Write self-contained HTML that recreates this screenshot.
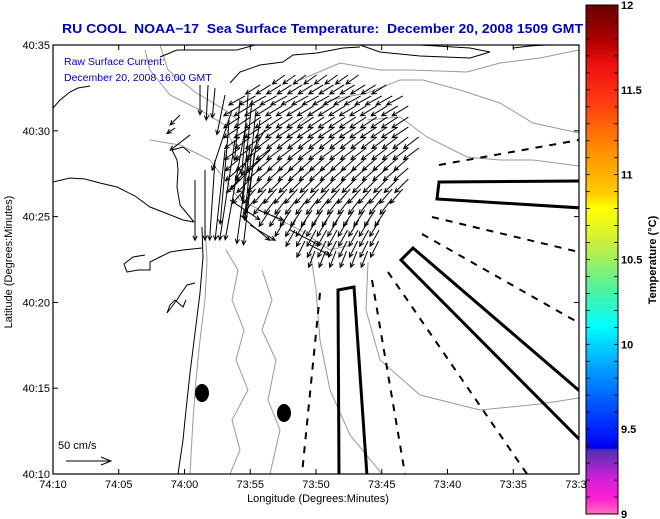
<!DOCTYPE html>
<html><head><meta charset="utf-8"><style>
html,body{margin:0;padding:0;background:#fff;}
svg{display:block;font-family:"Liberation Sans",Arial,sans-serif;}
</style></head><body>
<svg id="chart" width="660" height="519" viewBox="0 0 660 519">
<defs>
<linearGradient id="cbar" x1="0" y1="0" x2="0" y2="1">
<stop offset="0" stop-color="#6a0000"/><stop offset="0.07" stop-color="#b00000"/><stop offset="0.12" stop-color="#f01010"/><stop offset="0.19" stop-color="#ff3a14"/><stop offset="0.28" stop-color="#ff8a00"/><stop offset="0.37" stop-color="#ffcc00"/><stop offset="0.4" stop-color="#ffff00"/><stop offset="0.47" stop-color="#c8f040"/><stop offset="0.56" stop-color="#50f0a0"/><stop offset="0.63" stop-color="#00ffff"/><stop offset="0.72" stop-color="#0098ff"/><stop offset="0.82" stop-color="#0030ff"/><stop offset="0.87" stop-color="#0000f0"/><stop offset="0.875" stop-color="#5030b0"/><stop offset="0.93" stop-color="#d020d8"/><stop offset="0.97" stop-color="#ff20d0"/><stop offset="1" stop-color="#ff70c0"/>
</linearGradient>
<clipPath id="plotclip"><rect x="53" y="45" width="526" height="429"/></clipPath>
</defs>

<text x="62" y="33" fill="#0000c0" font-weight="bold" font-size="12.5" textLength="521" lengthAdjust="spacingAndGlyphs" style="white-space:pre" xml:space="preserve">RU COOL  NOAA−17  Sea Surface Temperature:  December 20, 2008 1509 GMT</text>

<g id="mapgeo" clip-path="url(#plotclip)">
<g fill="none" stroke="#999" stroke-width="1">
<polyline points="205,228 207,260 205,300 200,340 196,380 193,420 190,474"/>
<polyline points="226,250 238,270 232,300 244,330 236,360 248,390 232,420 240,450 230,474"/>
<polyline points="262,270 272,300 262,330 276,360 268,400 280,430 270,474"/>
<polyline points="310,250 316,290 320,340 330,390 350,435 382,474"/>
<polyline points="368,262 366,310 380,360 420,395 480,410 540,404 579,398"/>
<polyline points="300,80 340,63 380,70 410,70 467,72 500,63 540,58 579,50"/>
<polyline points="300,123 330,100 367,93 400,80 423,80 460,90 500,103 533,123 579,133"/>
<polyline points="367,120 400,117 427,137 467,157 500,160 533,160 579,166"/>
<polyline points="145,50 150,70 170,95 200,110 225,125 235,150"/>
<polyline points="160,45 168,70 195,92 225,110 238,120"/>
<polyline points="150,140 180,145 210,160 240,200 270,215 300,230 330,250 350,245"/>
</g>
<g fill="none" stroke="#000" stroke-width="1">
<polyline points="53,108 60,100 70,92 78,88 90,86"/>
<polyline points="53,182 70,178 85,179 100,183 117,187 135,196 150,207 168,214 183,220 194,222"/>
<polyline points="194,222 180,205 177,187 178,170 177,160 172,150 183,147 190,153"/>
<polyline points="202,227 203,257 200,293 195,333 190,373 186,410 183,440 178,474"/>
<polyline points="202,248 183,250 170,252 160,257 150,262 150,270 138,270 127,272 124,264 133,257 145,255"/>
<polyline points="195,283 187,285 180,295 177,300 167,313 170,305 175,300 183,307 186,300"/>
<polyline points="230,83 240,72 260,65 283,62 293,55 317,53 343,48 360,47"/>
<polyline points="160,57 177,50 200,50 237,50 255,45"/>
<polyline points="360,45 380,52 420,56 470,58 490,52 470,48 420,45"/>
<polyline points="513,48 530,46 545,45"/>
</g>
<g fill="none" stroke="#000" stroke-width="3">
<polygon points="338,290 354,287 367,476 339,476"/>
<polygon points="439,182 582,181 582,208 437,199"/>
<polygon points="413,248 401,260 582,442 582,393"/>
</g>
<g fill="none" stroke="#000" stroke-width="2" stroke-dasharray="7,7">
<line x1="439" y1="165" x2="579" y2="140"/>
<line x1="432" y1="217" x2="579" y2="252"/>
<line x1="422" y1="234" x2="579" y2="323"/>
<line x1="388" y1="272" x2="527" y2="474"/>
<line x1="372" y1="280" x2="405" y2="474"/>
<line x1="320" y1="293" x2="302" y2="474"/>
</g>
<ellipse cx="202" cy="393" rx="7" ry="9" fill="#000"/>
<ellipse cx="284" cy="413" rx="7" ry="9" fill="#000"/>
</g>

<g id="arrows" clip-path="url(#plotclip)"></g>

<text x="64" y="65" fill="#0000c0" font-size="10.5">Raw Surface Current:</text>
<text x="64" y="81" fill="#0000c0" font-size="10.5">December 20, 2008 16:00 GMT</text>

<text x="58" y="449" font-size="11">50 cm/s</text>
<g stroke="#000" fill="none">
<line x1="66" y1="461" x2="111" y2="461"/><polyline points="101,457 111,461 101,465"/>
</g>

<rect x="53" y="45" width="526" height="429" fill="none" stroke="#000" stroke-width="1.2"/>
<g id="axes" font-size="11"></g>

<text transform="translate(12,262) rotate(-90)" text-anchor="middle" font-size="11">Latitude (Degrees:Minutes)</text>
<text x="318" y="502" text-anchor="middle" font-size="11">Longitude (Degrees:Minutes)</text>

<rect x="586" y="5" width="32" height="509" fill="url(#cbar)" stroke="#000" stroke-width="1"/>
<g id="cbaxis" font-size="11" font-weight="bold"></g>
<text transform="translate(656,260) rotate(-90)" text-anchor="middle" font-size="11" font-weight="bold">Temperature (°C)</text>
</svg>
<script>
// Row-based current field (lat minutes north of 40:10, lon minutes west of 73:30, cm/s)
const rowLat = [23.25,22.67,22.03,21.45,20.80,20.22,19.64,19.00,18.41,17.83,17.19,16.61,16.03,15.38,14.80,14.22,13.58,12.99];
const rowLonStart = [22.36,24.26,25.40,25.78,25.78,25.78,25.78,25.78,25.78,25.78,25.78,25.40,24.64,23.50,22.36,21.60,20.84,20.08];
const rowLonEnd = [16.27,13.99,13.23,12.85,12.85,12.47,12.09,12.09,12.47,12.47,12.85,13.23,13.61,13.99,14.37,14.75,15.13,15.51];
const rowU = [-14,-16,-18,-18,-18,-18,-17,-17,-16,-16,-15,-14,-13,-12,-11,-10,-9,-7];
const rowV = [-10,-10,-10,-11,-12,-12,-13,-13,-14,-14,-15,-16,-17,-18,-18,-18,-18,-18];
// Near-shore cluster of strong currents
const clusterLon = [28.82,28.21,27.68,26.92,25.78,25.17,24.87,24.56,24.26,25.40,26.16,26.92,27.68,28.44,29.20,26.39,23.88,23.50,29.58,30.34,30.72,26.54,25.78,25.02,24.41,21.98,20.46,25.0,24.7,26.6];
const clusterLat = [22.67,22.67,22.49,22.09,21.79,22.09,21.79,21.21,20.63,20.05,19.46,18.88,18.30,17.72,17.13,21.21,20.05,18.88,19.76,20.92,20.16,15.97,15.09,14.51,15.38,14.22,13.34,19.2,18.6,20.6];
const clusterU = [0,-2,-3,-9,-6,-7,-11,-13,-17,-22,-17,-11,-6,0,0,-22,-33,-44,-22,-11,-9,33,33,28,28,33,22,-15,-12,-10];
const clusterV = [-33,-39,-33,-44,-67,-89,-111,-122,-111,-122,-111,-100,-89,-78,-67,-67,-56,-44,-17,-11,-6,-22,-28,-17,-11,-17,-11,-110,-100,-115];
const xTickLabels = ["74:10","74:05","74:00","73:55","73:50","73:45","73:40","73:35","73:30"];
const xTickMin = [40,35,30,25,20,15,10,5,0];
const yTickLabels = ["40:35","40:30","40:25","40:20","40:15","40:10"];
const yTickMin = [25,20,15,10,5,0];
const cbLabels = ["12","11.5","11","10.5","10","9.5","9"];
const cbValues = [12,11.5,11,10.5,10,9.5,9];

const NS = "http://www.w3.org/2000/svg";
function xOf(m){ return 579 - m*13.15; }
function yOf(n){ return 474 - n*17.16; }
function cbY(t){ return 514 - (t-9)*(509/3); }
const PX = 0.9; // px per cm/s
const ag = document.getElementById('arrows');
function arrow(m,n,u,v){
  const x0=xOf(m), y0=yOf(n), x1=x0+u*PX, y1=y0-v*PX;
  const a=Math.atan2(y1-y0,x1-x0), h=5, s=0.45;
  const p=document.createElementNS(NS,'path');
  p.setAttribute('d',`M${x0},${y0}L${x1},${y1}M${x1-h*Math.cos(a-s)},${y1-h*Math.sin(a-s)}L${x1},${y1}L${x1-h*Math.cos(a+s)},${y1-h*Math.sin(a+s)}`);
  p.setAttribute('stroke','#000');p.setAttribute('fill','none');p.setAttribute('stroke-width','1');
  
  
  ag.appendChild(p);
}
for(let r=0;r<rowLat.length;r++){
  for(let m=rowLonStart[r]; m>=rowLonEnd[r]-0.01; m-=0.8){ arrow(m,rowLat[r],rowU[r],rowV[r]); }
}
for(let i=0;i<clusterLon.length;i++) arrow(clusterLon[i],clusterLat[i],clusterU[i],clusterV[i]);

const ax=document.getElementById('axes');
function mk(tag,attrs,txt){const e=document.createElementNS(NS,tag);for(const k in attrs)e.setAttribute(k,attrs[k]);if(txt!==undefined)e.textContent=txt;return e;}
xTickMin.forEach((m,i)=>{
  const x=xOf(m);
  const t1=mk('line',{x1:x,y1:474,x2:x,y2:469,stroke:'#000'});
  
  
  ax.appendChild(t1);
  const t2=mk('line',{x1:x,y1:45,x2:x,y2:50,stroke:'#000'});
  
  
  ax.appendChild(t2);
  const lb=mk('text',{x:x,y:488,'text-anchor':'middle'},xTickLabels[i]);
  
  
  ax.appendChild(lb);
});
yTickMin.forEach((n,i)=>{
  const y=yOf(n);
  const t1=mk('line',{x1:53,y1:y,x2:58,y2:y,stroke:'#000'});
  
  
  ax.appendChild(t1);
  const t2=mk('line',{x1:579,y1:y,x2:574,y2:y,stroke:'#000'});
  
  
  ax.appendChild(t2);
  const lb=mk('text',{x:50,y:y+4,'text-anchor':'end'},yTickLabels[i]);
  
  
  ax.appendChild(lb);
});
const cb=document.getElementById('cbaxis');
for(let t=9.1;t<11.95;t+=0.1){
  const y=cbY(t);
  const a=mk('line',{x1:586,y1:y,x2:590,y2:y,stroke:'#000','stroke-width':0.8});
  
  
  cb.appendChild(a);
  const b=mk('line',{x1:618,y1:y,x2:614,y2:y,stroke:'#000','stroke-width':0.8});
  
  
  cb.appendChild(b);
}
cbValues.forEach((v,i)=>{
  const y=cbY(v);
  const lb=mk('text',{x:621,y:y+4},cbLabels[i]);
  
  
  cb.appendChild(lb);
});
</script>
</body></html>
